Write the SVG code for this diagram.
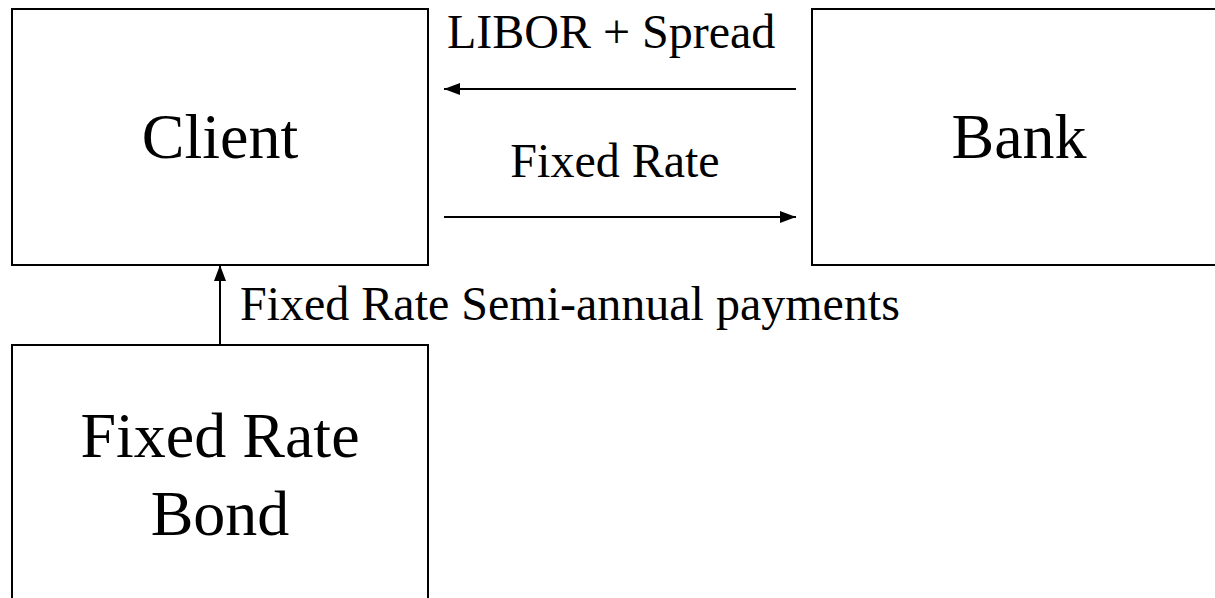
<svg xmlns="http://www.w3.org/2000/svg" width="1215" height="598" viewBox="0 0 1215 598">
<style>
.box{fill:#fff;stroke:#000;stroke-width:2}
.t{font-family:"Liberation Serif","Times New Roman",serif;fill:#000}
.big{font-size:64px;text-anchor:middle}
.lbl{font-size:48px}
.c{stroke:#000;stroke-width:2;fill:none}
</style>
<defs>
<marker id="ah" markerWidth="16" markerHeight="12" refX="16" refY="6" orient="auto" markerUnits="userSpaceOnUse">
<path d="M0,0 L16,6 L0,12 Z" fill="#000"/>
</marker>
</defs>
<rect width="1215" height="598" fill="#fff"/>
<g id="client">
<rect class="box" x="12" y="9" width="416" height="256"/>
<text class="t big" x="220" y="158">Client</text>
</g>
<g id="bank">
<rect class="box" x="812" y="9" width="420" height="256"/>
<text class="t big" x="1019" y="158">Bank</text>
</g>
<g id="bond">
<rect class="box" x="12" y="345" width="416" height="270"/>
<text class="t big" x="220" y="457">Fixed Rate</text>
<text class="t big" x="220" y="535">Bond</text>
</g>
<g id="connectors">
<line class="c" x1="796" y1="89" x2="444" y2="89" marker-end="url(#ah)"/>
<line class="c" x1="444" y1="217" x2="796" y2="217" marker-end="url(#ah)"/>
<line class="c" x1="220" y1="345" x2="220" y2="265" marker-end="url(#ah)"/>
<text class="t lbl" x="447" y="48">LIBOR + Spread</text>
<text class="t lbl" x="615" y="177" text-anchor="middle">Fixed Rate</text>
<text class="t lbl" x="240" y="320">Fixed Rate Semi-annual payments</text>
</g>
</svg>
